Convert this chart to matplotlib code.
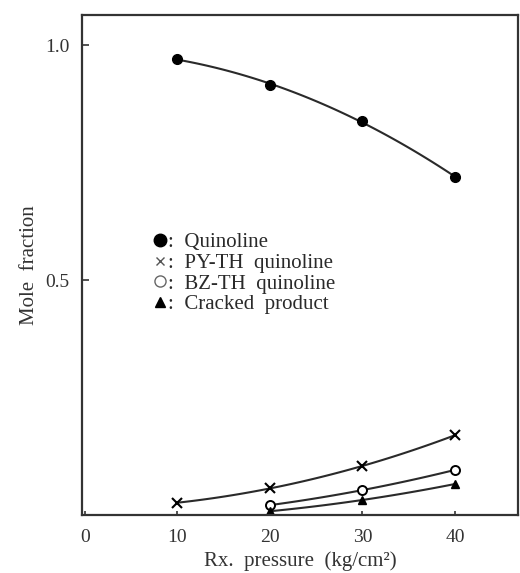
import numpy as np
import matplotlib
matplotlib.use('Agg')
import matplotlib.pyplot as plt

# values
pressure = [10, 20, 30, 40]
quinoline = [0.970, 0.915, 0.838, 0.719]
py_th = [0.026, 0.057, 0.104, 0.170]
bz_pressure = [20, 30, 40]
bz_th = [0.021, 0.053, 0.096]
cracked_pressure = [20, 30, 40]
cracked = [0.008, 0.032, 0.066]

plt.rcParams['font.family'] = ['Liberation Serif', 'DejaVu Serif']

fig = plt.figure(figsize=(5.2, 5.73), dpi=100)
ax = fig.add_axes([82/520, 1-515/573, (518-82)/520, (515-15)/573])

def smooth(ax, x, y, **kw):
    c = np.polyfit(x, y, 2)
    xs = np.linspace(min(x), max(x), 100)
    ax.plot(xs, np.polyval(c, xs), color='#2a2a2a', lw=1.5, **kw)

smooth(ax, pressure, quinoline)
smooth(ax, pressure, py_th)
smooth(ax, bz_pressure, bz_th)
smooth(ax, cracked_pressure, cracked)

ax.plot(pressure, quinoline, 'o', color='black', ms=7, ls='none')
ax.plot(pressure, py_th, 'x', color='black', ms=7, mew=1.5, ls='none')
ax.plot(bz_pressure, bz_th, 'o', mfc='white', mec='black', ms=6.5, mew=1.4, ls='none')
ax.plot(cracked_pressure, cracked, '^', color='black', ms=6, ls='none')

# legend with markers followed by a colon
h1, = ax.plot([], [], 'o', color='black', ms=9, ls='none')
h2, = ax.plot([], [], 'x', color='#555555', ms=6, mew=1.0, ls='none')
h3, = ax.plot([], [], 'o', mfc='white', mec='#666666', ms=8, mew=1.0, ls='none')
h4, = ax.plot([], [], '^', color='black', ms=7, ls='none')
ax.legend([h1, h2, h3, h4],
          [':  Quinoline', ':  PY-TH  quinoline', ':  BZ-TH  quinoline', ':  Cracked  product'],
          loc='upper left', bbox_to_anchor=(0.135, 0.585), frameon=False,
          handlelength=0.8, handletextpad=0.0, labelspacing=0.05, fontsize=15,
          borderpad=0, labelcolor='#2a2a2a')

ax.set_xlim(-0.3, 46.8)
ax.set_ylim(0, 1.064)
ax.set_xticks([0, 10, 20, 30, 40])
ax.set_yticks([0.5, 1.0])
ax.set_yticklabels(['0.5', '1.0'])
ax.tick_params(direction='in', length=5, width=1.2, labelsize=14, colors='#333333')
ax.tick_params(axis='y', pad=9)
ax.tick_params(axis='x', pad=10, length=3)
for s in ax.spines.values():
    s.set_linewidth(1.6)
    s.set_color('#333333')

ax.set_xlabel('Rx.  pressure  (kg/cm²)', fontsize=15, color='#333333', labelpad=4)
ax.set_ylabel('Mole  fraction', fontsize=15, color='#333333', va='center')
ax.yaxis.set_label_coords(-0.12, 0.5)

fig.savefig('out.png', dpi=100)
